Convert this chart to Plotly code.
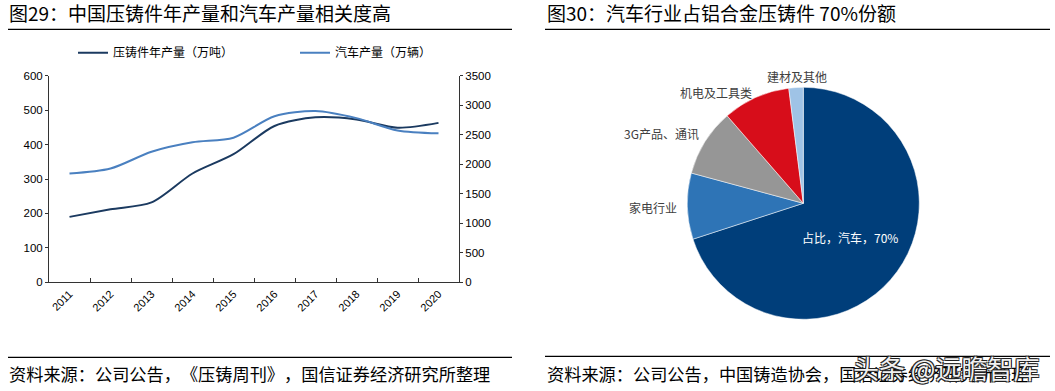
import plotly.graph_objects as go

# ---------------- data ----------------
years = ["2011", "2012", "2013", "2014", "2015", "2016", "2017", "2018", "2019", "2020"]
diecast_output = [190, 212, 232, 316, 372, 454, 479, 473, 449, 463]          # 万吨 (left axis)
car_output = [1842, 1927, 2212, 2372, 2450, 2812, 2902, 2781, 2572, 2523]    # 万辆 (right axis)

pie_labels = ["汽车", "家电行业", "3G产品、通讯", "机电及工具类", "建材及其他"]
pie_values = [70, 9.2, 9.4, 9.4, 2.0]
pie_inside_text = "占比，汽车，70%"

left_title = "图29：中国压铸件年产量和汽车产量相关度高"
right_title = "图30：汽车行业占铝合金压铸件 70%份额"
left_source = "资料来源：公司公告，\u200b《压铸周刊》\u200b，国信证券经济研究所整理"
right_source = "资料来源：公司公告，中国铸造协会，国信证券经济研究所整理"
watermark = "头条 @远瞻智库"

# ---------------- styling / layout ----------------
W, H = 1055, 391
CJK = "Noto Sans CJK SC"
NUM = "Liberation Sans, Arial, Noto Sans CJK SC"
dark_line = "#1B3A60"
light_line = "#4A80C0"
pie_colors = ["#003E7A", "#2E74B6", "#969696", "#D70D1A", "#9FC3E6"]
axis_col = "#333333"
# outside-label centres (pixels) for the small pie slices, in slice order 1..4
pie_label_pos = [(653, 207), (661, 133), (716, 92), (797, 77)]


def px(x):
    return x / W


def py(y):
    return 1 - y / H


fig = go.Figure()

fig.add_trace(go.Scatter(
    x=years, y=diecast_output, name="压铸件年产量（万吨）",
    mode="lines", line=dict(color=dark_line, width=2, shape="spline", smoothing=0.8),
    xaxis="x", yaxis="y",
))
fig.add_trace(go.Scatter(
    x=years, y=car_output, name="汽车产量（万辆）",
    mode="lines", line=dict(color=light_line, width=2, shape="spline", smoothing=0.8),
    xaxis="x", yaxis="y2",
))

pie_texts = [pie_inside_text] + [""] * (len(pie_labels) - 1)
fig.add_trace(go.Pie(
    labels=pie_labels, values=pie_values, text=pie_texts,
    textinfo="text", sort=False, direction="clockwise", rotation=0,
    marker=dict(colors=pie_colors, line=dict(color="white", width=0.5)),
    textposition=["inside"] + ["none"] * (len(pie_labels) - 1),
    insidetextorientation="horizontal",
    insidetextfont=dict(color="white", size=12, family=CJK),
    domain=dict(x=[px(687.3), px(919.3)], y=[py(319.3), py(87.3)]),
    showlegend=False, hoverinfo="label+value",
))

for lab, (lx, ly) in zip(pie_labels[1:], pie_label_pos):
    fig.add_annotation(text=lab, xref="paper", yref="paper", x=px(lx), y=py(ly),
                       xanchor="center", yanchor="middle", showarrow=False,
                       font=dict(size=12, family=CJK, color="#404040"))

fig.update_layout(
    width=W, height=H,
    margin=dict(l=0, r=0, t=0, b=0, autoexpand=False),
    paper_bgcolor="white", plot_bgcolor="white",
    font=dict(family=NUM, color="#000000"),
    xaxis=dict(
        domain=[px(49), px(459)], type="category", anchor="y", automargin=False,
        range=[-0.5, len(years) - 0.5],
        showline=True, linecolor=axis_col, linewidth=1,
        ticks="inside", ticklen=4, tickcolor=axis_col, tickson="boundaries",
        tickangle=-45, tickfont=dict(size=11, family=NUM, color="#000"),
        showgrid=False, zeroline=False,
    ),
    yaxis=dict(
        domain=[py(282.3), py(75.7)], range=[0, 600], dtick=100, anchor="x",
        automargin=False,
        showline=True, linecolor=axis_col, linewidth=1,
        ticks="outside", ticklen=3, tickcolor=axis_col,
        tickfont=dict(size=11.5, family=NUM, color="#000"),
        showgrid=False, zeroline=False,
    ),
    yaxis2=dict(
        range=[0, 3500], dtick=500, overlaying="y", side="right", anchor="x",
        automargin=False,
        showline=True, linecolor=axis_col, linewidth=1,
        ticks="outside", ticklen=3, tickcolor=axis_col,
        tickfont=dict(size=11.5, family=NUM, color="#000"),
        showgrid=False, zeroline=False,
    ),
    legend=dict(
        orientation="h", x=px(73), xanchor="left", y=py(52.7), yanchor="middle",
        font=dict(size=12, family=CJK, color="#000"),
        bgcolor="rgba(0,0,0,0)", itemwidth=30,
        entrywidth=177, entrywidthmode="pixels",
    ),
)

# title / source rules
for x0, x1, y in [(8, 512, 29.3), (545, 1050, 29.3), (8, 512, 357.3), (545, 1050, 356.3)]:
    fig.add_shape(type="line", xref="paper", yref="paper",
                  x0=px(x0), x1=px(x1), y0=py(y), y1=py(y),
                  line=dict(color="#000", width=1.3))

for txt, x, y, size in [(left_title, 7, 12.5, 19), (right_title, 545, 12.5, 19),
                        (left_source, 7, 373.5, 17.2), (right_source, 545, 373.5, 17.2)]:
    fig.add_annotation(text=txt, xref="paper", yref="paper", x=px(x), y=py(y),
                       xanchor="left", yanchor="middle", showarrow=False,
                       font=dict(size=size, family=CJK, color="#000"))

fig.add_annotation(
    text=watermark, xref="paper", yref="paper", x=px(946), y=py(367),
    xanchor="center", yanchor="middle", showarrow=False,
    font=dict(size=26, family=CJK, color="rgba(255,255,255,0.95)",
              shadow="1px 1px 0 #222, -1px -1px 0 #222, 1px -1px 0 #222, -1px 1px 0 #222"),
)

fig.write_html("out.html", config={"displayModeBar": False},
               post_script="document.body.style.margin='0';document.body.style.overflow='hidden';")
